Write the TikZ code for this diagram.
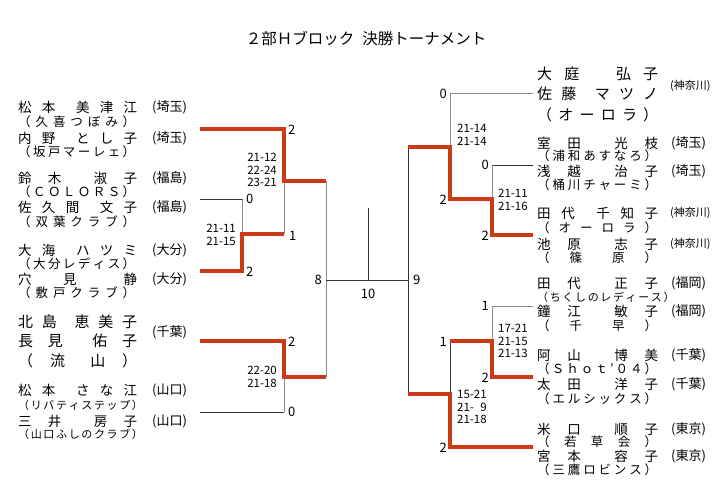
\documentclass[tikz,border=0pt]{standalone}
\usepackage{fontspec}
\usepackage{tikz}
\newfontfamily\jp{Noto Sans CJK JP}
\definecolor{winred}{RGB}{204,58,24}
% spread a name or club over a fixed width
\newcommand\spr[2][119bp]{\makebox[#1][s]{#2}}

\begin{document}
\begin{tikzpicture}[
        x=1bp, y=-1bp,
        every node/.style={inner sep=0pt},
        title/.style={font={\jp\fontsize{15.5bp}{17bp}\selectfont}},
        plname/.style={anchor=west, font={\jp\fontsize{13.5bp}{15bp}\selectfont}},
        bigname/.style={anchor=west, font={\jp\fontsize{15bp}{17bp}\selectfont}},
        plclub/.style={anchor=west, font={\jp\fontsize{12.5bp}{14bp}\selectfont}},
        smallclub/.style={anchor=west, font={\jp\fontsize{11bp}{12bp}\selectfont}},
        plpref/.style={anchor=west, font={\jp\fontsize{13bp}{15bp}\selectfont}},
        smallpref/.style={anchor=west, font={\jp\fontsize{11bp}{13bp}\selectfont}},
        result/.style={font={\jp\fontsize{13bp}{15bp}\selectfont}},
        games/.style={font={\jp\fontsize{11.5bp}{12.5bp}\selectfont}},
        win/.style={draw=winred, line width=3.5bp},
        lose/.style={draw=black!80, line width=0.8bp},
        link/.style={draw=black!45, line width=0.8bp}
    ]
    \useasboundingbox (0,0) rectangle (720,492);

    % Title
    \node[title] (title) at (366,38) {２部Ｈブロック\hspace{8bp}決勝トーナメント};

    % Left players
    \node[plname] (l1a) at (18,107) {\spr{松 本 \ 美 津 江}};
    \node[plclub] (l1b) at (18,122) {\spr[117bp]{（ 久 喜 つ ぼ み ）}};
    \node[plname] (l1c) at (18,138) {\spr{内 野 \ と し 子}};
    \node[plclub] (l1d) at (18,152) {\spr[117bp]{（ 坂 戸 マ ー レ ェ ）}};
    \node[plpref] (l1p) at (152,107) {(埼玉)};
    \node[plpref] (l1q) at (152,138) {(埼玉)};

    \node[plname] (l2a) at (18,178) {\spr{鈴 木 \ 淑 子}};
    \node[plclub] (l2b) at (18,192) {\spr[117bp]{（ Ｃ Ｏ Ｌ Ｏ Ｒ Ｓ ）}};
    \node[plname] (l2c) at (18,207) {\spr{佐 久 間 \ 文 子}};
    \node[plclub] (l2d) at (18,222) {\spr[117bp]{（ 双 葉 ク ラ ブ ）}};
    \node[plpref] (l2p) at (152,178) {(福島)};
    \node[plpref] (l2q) at (152,207) {(福島)};

    \node[plname] (l3a) at (18,250) {\spr{大 海 \ ハ ツ ミ}};
    \node[plclub] (l3b) at (18,264) {\spr[117bp]{（ 大 分 レ デ ィ ス ）}};
    \node[plname] (l3c) at (18,279) {\spr{穴 \ 見 \ \ 静}};
    \node[plclub] (l3d) at (18,293) {\spr[117bp]{（ 敷 戸 ク ラ ブ ）}};
    \node[plpref] (l3p) at (152,250) {(大分)};
    \node[plpref] (l3q) at (152,279) {(大分)};

    \node[bigname] (l4a) at (18,322) {\spr{北 島 \ 恵 美 子}};
    \node[bigname] (l4b) at (18,341) {\spr{長 見 \ 佑 子}};
    \node[bigname] (l4c) at (18,361) {\spr{（ \ 流 \ \ 山 \ ）}};
    \node[plpref] (l4p) at (152,332) {(千葉)};

    \node[plname] (l5a) at (18,390) {\spr{松 本 \ さ な 江}};
    \node[smallclub] (l5b) at (18,405) {\spr[117bp]{（ リ バ テ ィ ス テ ッ プ ）}};
    \node[plname] (l5c) at (18,421) {\spr{三 井 \ 房 子}};
    \node[smallclub] (l5d) at (18,434) {\spr[117bp]{（ 山 口 ふ し の ク ラ ブ ）}};
    \node[plpref] (l5p) at (152,390) {(山口)};
    \node[plpref] (l5q) at (152,421) {(山口)};

    % Right players
    \node[bigname] (r1a) at (537,74) {\spr[121bp]{大 庭 \ \ 弘 子}};
    \node[bigname] (r1b) at (537,94) {\spr[121bp]{佐 藤 \ マ ツ ノ}};
    \node[bigname] (r1c) at (537,115) {\spr[121bp]{（ オ ー ロ ラ ）}};
    \node[smallpref] (r1p) at (670,86) {(神奈川)};

    \node[plname] (r2a) at (537,143) {\spr[121bp]{室 田 \ 光 枝}};
    \node[plclub] (r2b) at (537,156) {\spr[120bp]{（ 浦 和 あ す な ろ ）}};
    \node[plname] (r2c) at (537,171) {\spr[121bp]{浅 越 \ 治 子}};
    \node[plclub] (r2d) at (537,185) {\spr[120bp]{（ 桶 川 チ ャ ー ミ ）}};
    \node[plpref] (r2p) at (671,143) {(埼玉)};
    \node[plpref] (r2q) at (671,171) {(埼玉)};

    \node[plname] (r3a) at (537,213) {\spr[121bp]{田 代 \ 千 知 子}};
    \node[plclub] (r3b) at (537,228) {\spr[120bp]{（ オ ー ロ ラ ）}};
    \node[plname] (r3c) at (537,244) {\spr[121bp]{池 原 \ 志 子}};
    \node[plclub] (r3d) at (537,258) {\spr[120bp]{（ \ 篠 \ \ 原 \ ）}};
    \node[smallpref] (r3p) at (670,213) {(神奈川)};
    \node[smallpref] (r3q) at (670,244) {(神奈川)};

    \node[plname] (r4a) at (537,283) {\spr[121bp]{田 代 \ 正 子}};
    \node[smallclub] (r4b) at (537,297) {\spr[120bp]{（ ち く し の レ デ ィ ー ス ）}};
    \node[plname] (r4c) at (537,311) {\spr[121bp]{鐘 江 \ 敏 子}};
    \node[plclub] (r4d) at (537,326) {\spr[120bp]{（ \ 千 \ \ 早 \ ）}};
    \node[plpref] (r4p) at (671,283) {(福岡)};
    \node[plpref] (r4q) at (671,311) {(福岡)};

    \node[plname] (r5a) at (537,355) {\spr[121bp]{阿 山 \ 博 美}};
    \node[plclub] (r5b) at (537,369) {\spr[120bp]{（ Ｓ ｈ ｏ ｔ ’ ０ ４ ）}};
    \node[plname] (r5c) at (537,384) {\spr[121bp]{太 田 \ 洋 子}};
    \node[plclub] (r5d) at (537,399) {\spr[120bp]{（ エ ル シ ッ ク ス ）}};
    \node[plpref] (r5p) at (671,355) {(千葉)};
    \node[plpref] (r5q) at (671,384) {(千葉)};

    \node[plname] (r6a) at (537,429) {\spr[121bp]{米 口 \ 順 子}};
    \node[plclub] (r6b) at (537,442) {\spr[120bp]{（ 若 草 会 ）}};
    \node[plname] (r6c) at (537,456) {\spr[121bp]{宮 本 \ 容 子}};
    \node[plclub] (r6d) at (537,470) {\spr[120bp]{（ 三 鷹 ロ ビ ン ス ）}};
    \node[plpref] (r6p) at (671,429) {(東京)};
    \node[plpref] (r6q) at (671,456) {(東京)};

    % Bracket points, left
    \coordinate (a1) at (200,129);
    \coordinate (a2) at (200,199);
    \coordinate (a3) at (200,271);
    \coordinate (a4) at (200,341);
    \coordinate (a5) at (200,412);
    \coordinate (q1top) at (242,199);
    \coordinate (q1mid) at (242,234);
    \coordinate (q1bot) at (242,271);
    \coordinate (s1top) at (284,129);
    \coordinate (s1mid) at (284,181);
    \coordinate (s1bot) at (284,234);
    \coordinate (s2top) at (284,341);
    \coordinate (s2mid) at (284,377);
    \coordinate (s2bot) at (284,412);
    \coordinate (f1top) at (326,181);
    \coordinate (f1mid) at (326,280);
    \coordinate (f1bot) at (326,377);

    % Bracket points, centre and right
    \coordinate (ctop) at (368,208);
    \coordinate (cmid) at (368,280);
    \coordinate (f2top) at (408,147);
    \coordinate (f2mid) at (408,280);
    \coordinate (f2bot) at (408,394);
    \coordinate (b1) at (533,93);
    \coordinate (b2) at (533,165);
    \coordinate (b3) at (533,235);
    \coordinate (b4) at (533,306);
    \coordinate (b5) at (533,377);
    \coordinate (b6) at (533,447);
    \coordinate (t1top) at (450,93);
    \coordinate (t1mid) at (450,147);
    \coordinate (t1bot) at (450,199);
    \coordinate (p1top) at (492,165);
    \coordinate (p1mid) at (492,199);
    \coordinate (p1bot) at (492,235);
    \coordinate (p2top) at (492,306);
    \coordinate (p2mid) at (492,341);
    \coordinate (p2bot) at (492,377);
    \coordinate (t2top) at (450,341);
    \coordinate (t2mid) at (450,394);
    \coordinate (t2bot) at (450,447);

    % Losing lines
    \draw[lose] (a2) -- (q1top);
    \draw[link] (q1top) -- (q1mid);
    \draw[link] (s1mid) -- (s1bot);
    \draw[lose] (a5) -- (s2bot);
    \draw[link] (s2mid) -- (s2bot);
    \draw[link] (f1top) -- (f1bot);
    \draw[lose] (f1mid) -- (f2mid);
    \draw[lose] (ctop) -- (cmid);
    \draw[lose] (f2top) -- (f2bot);
    \draw[link] (b1) -- (t1top) -- (t1mid);
    \draw[lose] (b2) -- (p1top);
    \draw[link] (p1top) -- (p1mid);
    \draw[link] (b4) -- (p2top) -- (p2mid);
    \draw[lose] (t2top) -- (t2mid);

    % Winning lines
    \draw[win] (a1) -- (s1top) -- (s1mid) -- (f1top);
    \draw[win] (a3) -- (q1bot) -- (q1mid) -- (s1bot);
    \draw[win] (a4) -- (s2top) -- (s2mid) -- (f1bot);
    \draw[win] (f2top) -- (t1mid) -- (t1bot) -- (p1mid) -- (p1bot) -- (b3);
    \draw[win] (t2top) -- (p2mid) -- (p2bot) -- (b5);
    \draw[win] (f2bot) -- (t2mid) -- (t2bot) -- (b6);

    % Match results
    \node[result, anchor=west] (w1) at (288,130) {2};
    \node[result, anchor=west] (w2) at (246,199) {0};
    \node[result, anchor=west] (w3) at (289,236) {1};
    \node[result, anchor=west] (w4) at (246,272) {2};
    \node[result, anchor=west] (w5) at (288,342) {2};
    \node[result, anchor=west] (w6) at (288,412) {0};
    \node[result, anchor=east] (w7) at (322,280) {8};
    \node[result] (w8) at (368,294) {10};
    \node[result, anchor=west] (w9) at (413,280) {9};
    \node[result, anchor=east] (e1) at (447,94) {0};
    \node[result, anchor=east] (e2) at (447,200) {2};
    \node[result, anchor=east] (e3) at (489,165) {0};
    \node[result, anchor=east] (e4) at (489,236) {2};
    \node[result, anchor=east] (e5) at (489,306) {1};
    \node[result, anchor=east] (e6) at (489,378) {2};
    \node[result, anchor=east] (e7) at (447,342) {1};
    \node[result, anchor=east] (e8) at (447,448) {2};

    % Game scores
    \node[games, anchor=east, align=right] (g1) at (277,170) {21-12\\22-24\\23-21};
    \node[games, anchor=east, align=right] (g2) at (236,235) {21-11\\21-15};
    \node[games, anchor=east, align=right] (g3) at (277,377) {22-20\\21-18};
    \node[games, anchor=west, align=left] (g4) at (457,135) {21-14\\21-14};
    \node[games, anchor=west, align=left] (g5) at (498,200) {21-11\\21-16};
    \node[games, anchor=west, align=left] (g6) at (498,341) {17-21\\21-15\\21-13};
    \node[games, anchor=west, align=left] (g7) at (457,407) {15-21\\21-\phantom{2}9\\21-18};

\end{tikzpicture}
\end{document}
